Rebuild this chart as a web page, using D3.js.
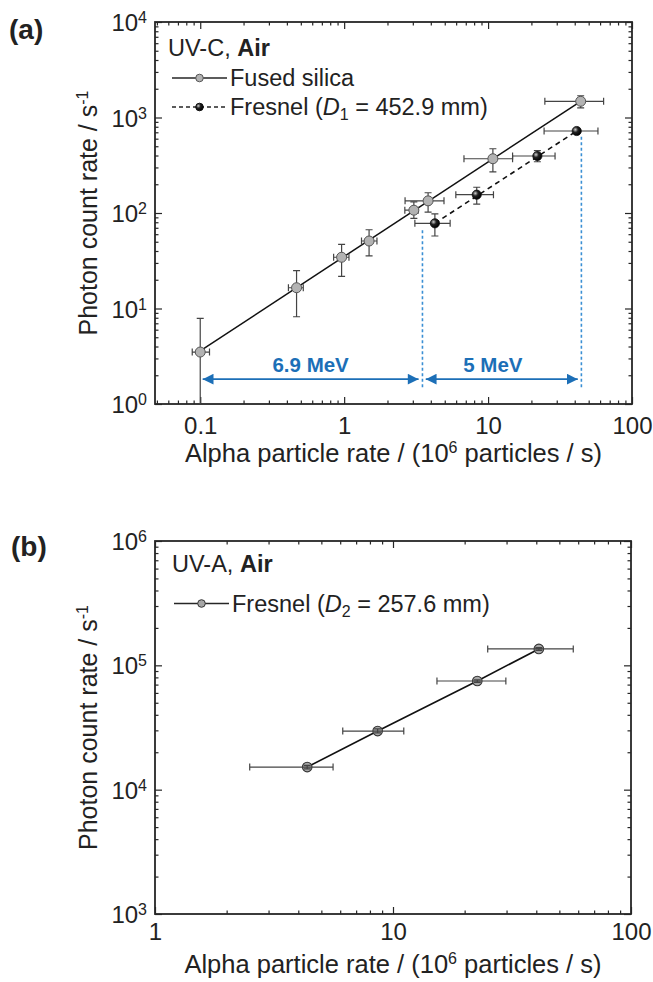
<!DOCTYPE html>
<html>
<head>
<meta charset="utf-8">
<script src="https://cdn.jsdelivr.net/npm/d3@7"></script>
<style>
  body { margin: 0; background: #fff; }
  svg { display: block; }
  text { font-family: "Liberation Sans", Arial, sans-serif; fill: #222; }
</style>
</head>
<body>
<svg width="653" height="982"></svg>
<script>
// ---- panel (a): UV-C, Air ----
const fusedX   = [0.1, 0.467, 0.96, 1.49, 3.05, 3.83, 10.8, 44];
const fusedY   = [3.5, 16.5, 34.4, 50.9, 107, 134, 370, 1478];
const fusedYLo = [1, 8.2, 21.7, 35.5, 88, 102, 269, 1259];
const fusedYHi = [7.9, 24.9, 47, 66.8, 131, 163, 471, 1690];
const fusedXLo = [0.088, 0.41, 0.845, 1.32, 2.64, 2.65, 6.8, 24.8];
const fusedXHi = [0.116, 0.52, 1.08, 1.69, 3.27, 4.94, 14.8, 63.5];
const fusedFitX = [0.1, 44];
const fusedFitY = [3.6, 1478];

const fresnelX   = [4.27, 8.34, 22, 41.3];
const fresnelY   = [78, 155.5, 395, 722];
const fresnelYLo = [57.4, 124, 344, 690];
const fresnelYHi = [97.7, 186, 449, 760];
const fresnelXLo = [3.1, 5.97, 14.8, 24.5];
const fresnelXHi = [5.45, 10.9, 29.2, 58];
const fresnelFitX = [4.27, 41.3];
const fresnelFitY = [78, 722];

// energy annotations
const energyLabels = ["6.9 MeV", "5 MeV"];
const energyLabelX = [0.585, 10.8];
const energyLabelY = 2.18;
const arrowFrom = [0.104, 3.69];
const arrowTo   = [3.29, 42];
const arrowY = 1.82;
const guideX   = [3.5, 44.5];
const guideTop = [66, 630];
const guideBottom = 1.5;

// ---- panel (b): UV-A, Air ----
const uvaX   = [4.36, 8.62, 22.6, 41];
const uvaY   = [15200, 29600, 74800, 135500];
const uvaYLo = [14700, 28600, 73000, 132000];
const uvaYHi = [15700, 30800, 76600, 139000];
const uvaXLo = [2.5, 6.15, 15.3, 25];
const uvaXHi = [5.6, 11.1, 29.8, 57.2];

const svg = d3.select("svg");
const ink = "#262626";
const blue = "#1c6fb7";

const defs = svg.append("defs");
const grad = defs.append("radialGradient").attr("id", "ball")
    .attr("cx", "35%").attr("cy", "35%").attr("r", "65%");
grad.append("stop").attr("offset", "0%").attr("stop-color", "#d0d0d0");
grad.append("stop").attr("offset", "45%").attr("stop-color", "#222");
grad.append("stop").attr("offset", "100%").attr("stop-color", "#000");

defs.append("marker").attr("id", "head")
    .attr("viewBox", "0 0 10 10").attr("refX", 10).attr("refY", 5)
    .attr("markerWidth", 6.5).attr("markerHeight", 6)
    .attr("markerUnits", "strokeWidth")
    .attr("orient", "auto-start-reverse")
  .append("path").attr("d", "M0,0L10,5L0,10Z").attr("fill", blue);

function logTicks(domain) {
    const [a, b] = domain;
    const major = [], minor = [];
    for (let e = Math.floor(Math.log10(a)); e <= Math.ceil(Math.log10(b)); e++) {
        const p = Math.pow(10, e);
        if (p >= a * 0.999 && p <= b * 1.001) major.push(p);
        for (let k = 2; k < 10; k++) {
            const v = k * p;
            if (v >= a && v <= b) minor.push(v);
        }
    }
    return { major, minor };
}

function pow10Label(sel) {
    sel.each(function (d) {
        const t = d3.select(this).text(null);
        t.append("tspan").text("10");
        t.append("tspan").attr("dy", "-8px").attr("font-size", "16px")
            .text(Math.round(Math.log10(d)));
    });
}

function drawAxes(g, sx, sy, w, h, xFmt, xPad) {
    const xt = logTicks(sx.domain()), yt = logTicks(sy.domain());
    const style = a => {
        a.select(".domain").remove();
        a.selectAll("line").attr("stroke", ink).attr("stroke-width", 1.2);
        a.selectAll("text").attr("font-size", "24px").attr("fill", "#222")
            .attr("font-family", '"Liberation Sans", Arial, sans-serif');
    };

    g.append("g").attr("transform", `translate(0,${h})`)
        .call(d3.axisBottom(sx).tickValues(xt.major).tickSize(-7).tickPadding(xPad).tickFormat(xFmt))
        .call(style);
    g.append("g").attr("transform", `translate(0,${h})`)
        .call(d3.axisBottom(sx).tickValues(xt.minor).tickSize(-3.5).tickFormat(""))
        .call(style);
    g.append("g")
        .call(d3.axisTop(sx).tickValues(xt.major).tickSize(-7).tickFormat(""))
        .call(style);
    g.append("g")
        .call(d3.axisTop(sx).tickValues(xt.minor).tickSize(-3.5).tickFormat(""))
        .call(style);

    g.append("g")
        .call(d3.axisLeft(sy).tickValues(yt.major).tickSize(-7).tickPadding(8))
        .call(style)
        .selectAll("text").attr("dy", "0.36em").call(pow10Label);
    g.append("g")
        .call(d3.axisLeft(sy).tickValues(yt.minor).tickSize(-3.5).tickFormat(""))
        .call(style);
    g.append("g").attr("transform", `translate(${w},0)`)
        .call(d3.axisRight(sy).tickValues(yt.major).tickSize(-7).tickFormat(""))
        .call(style);
    g.append("g").attr("transform", `translate(${w},0)`)
        .call(d3.axisRight(sy).tickValues(yt.minor).tickSize(-3.5).tickFormat(""))
        .call(style);

    g.append("rect").attr("width", w).attr("height", h)
        .attr("fill", "none").attr("stroke", ink).attr("stroke-width", 1.8);
}

function drawTitles(g, w, h, xBase, yBase) {
    const xt = g.append("text").attr("x", w / 2).attr("y", h + xBase)
        .attr("text-anchor", "middle").attr("font-size", "25.5px");
    xt.append("tspan").text("Alpha particle rate / (10");
    xt.append("tspan").attr("dy", "-9px").attr("font-size", "16px").text("6");
    xt.append("tspan").attr("dy", "9px").text(" particles / s)");

    const yt = g.append("text")
        .attr("transform", `translate(${yBase},${h / 2}) rotate(-90)`)
        .attr("text-anchor", "middle").attr("font-size", "25px");
    yt.append("tspan").text("Photon count rate / s");
    yt.append("tspan").attr("dy", "-9px").attr("font-size", "16px").text("-1");
}

function errorBars(g, sx, sy, xs, ys, xlo, xhi, ylo, yhi) {
    const cap = 3.5;
    const eg = g.append("g").attr("stroke", "#444").attr("stroke-width", 1.2).attr("fill", "none");
    xs.forEach((x, i) => {
        const cx = sx(x), cy = sy(ys[i]);
        const x0 = sx(xlo[i]), x1 = sx(xhi[i]);
        const y0 = sy(ylo[i]), y1 = sy(yhi[i]);
        eg.append("path").attr("d",
            `M${x0},${cy}H${x1}M${x0},${cy - cap}V${cy + cap}M${x1},${cy - cap}V${cy + cap}` +
            `M${cx},${y0}V${y1}M${cx - cap},${y1}H${cx + cap}` +
            (ylo[i] > sy.domain()[0] ? `M${cx - cap},${y0}H${cx + cap}` : ""));
    });
}

function legendRow(g, x, y, dash, markFill, markStroke) {
    g.append("line").attr("x1", x).attr("x2", x + 55).attr("y1", y).attr("y2", y)
        .attr("stroke", ink).attr("stroke-width", 1.3)
        .attr("stroke-dasharray", dash ? "4,3" : null);
    g.append("circle").attr("cx", x + 27.5).attr("cy", y).attr("r", 3.8)
        .attr("fill", markFill).attr("stroke", markStroke).attr("stroke-width", 1);
}

function legendLabel(x, y, sub, rest) {
    const f = svg.append("text").attr("x", x).attr("y", y).attr("font-size", "23.5px");
    f.append("tspan").text("Fresnel (");
    f.append("tspan").attr("font-style", "italic").text("D");
    f.append("tspan").attr("dy", "5px").attr("font-size", "16px").text(sub);
    f.append("tspan").attr("dy", "-5px").text(rest);
}

// ================= panel (a) =================
{
    const left = 155, top = 22, w = 477, h = 382;
    const g = svg.append("g").attr("transform", `translate(${left},${top})`);
    const sx = d3.scaleLog().domain([0.0485, 100]).range([0, w]);
    const sy = d3.scaleLog().domain([1, 1e4]).range([h, 0]);

    drawAxes(g, sx, sy, w, h, d3.format("~g"), 13);
    drawTitles(g, w, h, 58, -58);

    // guides and arrows
    guideX.forEach((x, i) => {
        g.append("line").attr("x1", sx(x)).attr("x2", sx(x))
            .attr("y1", sy(guideTop[i])).attr("y2", sy(guideBottom))
            .attr("stroke", "#3a8fd4").attr("stroke-width", 1.6).attr("stroke-dasharray", "3,2.5");
    });
    arrowFrom.forEach((x, i) => {
        g.append("line").attr("x1", sx(x)).attr("x2", sx(arrowTo[i]))
            .attr("y1", sy(arrowY)).attr("y2", sy(arrowY))
            .attr("stroke", blue).attr("stroke-width", 1.8)
            .attr("marker-start", "url(#head)").attr("marker-end", "url(#head)");
        g.append("text").attr("x", sx(energyLabelX[i])).attr("y", sy(energyLabelY))
            .attr("text-anchor", "middle").attr("font-size", "20.5px").attr("font-weight", "bold")
            .style("fill", blue).text(energyLabels[i]);
    });

    // fit lines
    const line = d3.line().x(d => sx(d[0])).y(d => sy(d[1]));
    g.append("path").attr("d", line(d3.zip(fusedFitX, fusedFitY)))
        .attr("fill", "none").attr("stroke", "#111").attr("stroke-width", 1.5);
    g.append("path").attr("d", line(d3.zip(fresnelFitX, fresnelFitY)))
        .attr("fill", "none").attr("stroke", "#111").attr("stroke-width", 1.6)
        .attr("stroke-dasharray", "5,4");

    errorBars(g, sx, sy, fusedX, fusedY, fusedXLo, fusedXHi, fusedYLo, fusedYHi);
    errorBars(g, sx, sy, fresnelX, fresnelY, fresnelXLo, fresnelXHi, fresnelYLo, fresnelYHi);

    g.selectAll(".fused").data(d3.zip(fusedX, fusedY)).enter().append("circle")
        .attr("class", "fused").attr("cx", d => sx(d[0])).attr("cy", d => sy(d[1])).attr("r", 5)
        .attr("fill", "#b3b3b3").attr("stroke", "#555").attr("stroke-width", 1);
    g.selectAll(".fres").data(d3.zip(fresnelX, fresnelY)).enter().append("circle")
        .attr("class", "fres").attr("cx", d => sx(d[0])).attr("cy", d => sy(d[1])).attr("r", 4.6)
        .attr("fill", "url(#ball)").attr("stroke", "#111").attr("stroke-width", 0.8);

    // legend
    const t = svg.append("text").attr("x", 168).attr("y", 56).attr("font-size", "23.5px");
    t.append("tspan").text("UV-C, ");
    t.append("tspan").attr("font-weight", "bold").text("Air");
    legendRow(svg, 172, 78, false, "#b3b3b3", "#555");
    svg.append("text").attr("x", 230).attr("y", 86).attr("font-size", "23.5px").text("Fused silica");
    legendRow(svg, 172, 107, true, "url(#ball)", "#111");
    legendLabel(230, 115, "1", " = 452.9 mm)");

    svg.append("text").attr("x", 9).attr("y", 39).attr("font-size", "28px")
        .attr("font-weight", "bold").text("(a)");
}

// ================= panel (b) =================
{
    const left = 155, top = 541, w = 476, h = 373;
    const g = svg.append("g").attr("transform", `translate(${left},${top})`);
    const sx = d3.scaleLog().domain([1, 100]).range([0, w]);
    const sy = d3.scaleLog().domain([1e3, 1e6]).range([h, 0]);

    drawAxes(g, sx, sy, w, h, d3.format("~g"), 9);
    drawTitles(g, w, h, 59, -58);

    const line = d3.line().x(d => sx(d[0])).y(d => sy(d[1]));
    g.append("path").attr("d", line(d3.zip(uvaX, uvaY)))
        .attr("fill", "none").attr("stroke", "#111").attr("stroke-width", 1.6);

    g.selectAll(".uva").data(d3.zip(uvaX, uvaY)).enter().append("circle")
        .attr("class", "uva").attr("cx", d => sx(d[0])).attr("cy", d => sy(d[1])).attr("r", 4.8)
        .attr("fill", "#a6a6a6").attr("stroke", "#333").attr("stroke-width", 1.1);
    errorBars(g, sx, sy, uvaX, uvaY, uvaXLo, uvaXHi, uvaYLo, uvaYHi);

    const t = svg.append("text").attr("x", 172).attr("y", 572).attr("font-size", "23.5px");
    t.append("tspan").text("UV-A, ");
    t.append("tspan").attr("font-weight", "bold").text("Air");
    legendRow(svg, 174, 603.5, false, "#a6a6a6", "#333");
    legendLabel(232, 612, "2", " = 257.6 mm)");

    svg.append("text").attr("x", 11).attr("y", 556).attr("font-size", "28px")
        .attr("font-weight", "bold").text("(b)");
}
</script>
</body>
</html>
